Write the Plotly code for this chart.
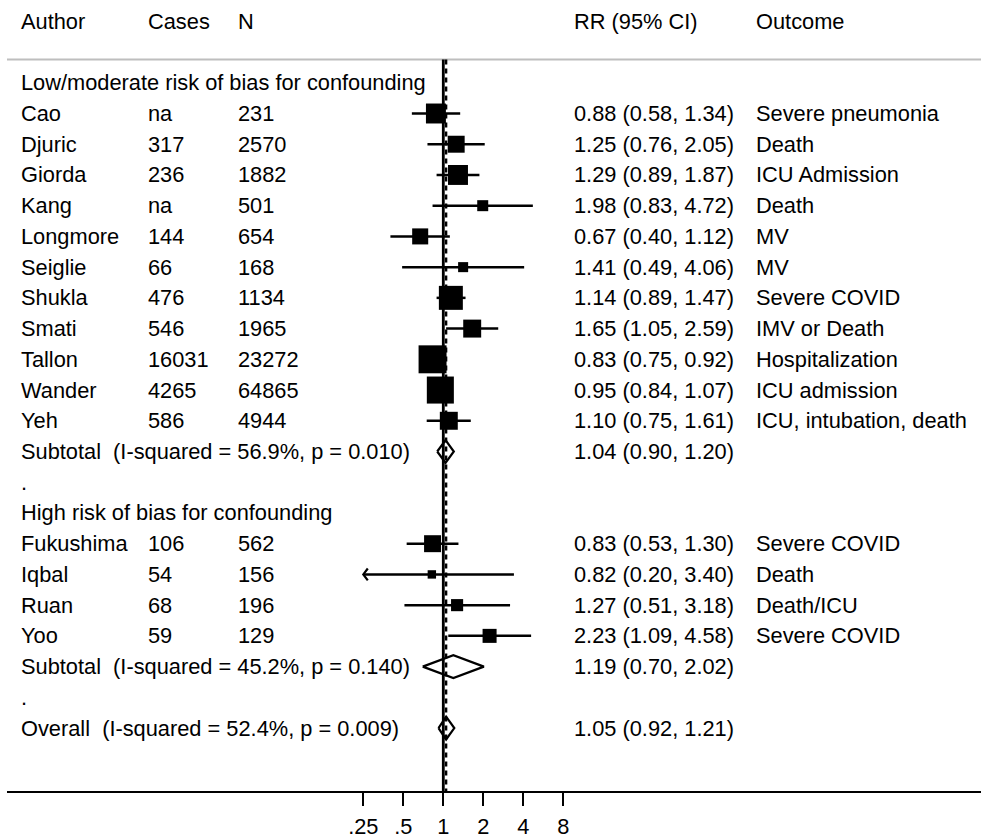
import math
import plotly.graph_objects as go

# ---------------- data ----------------
group_titles = ["Low/moderate risk of bias for confounding", "High risk of bias for confounding"]

g1_author = ["Cao", "Djuric", "Giorda", "Kang", "Longmore", "Seiglie", "Shukla", "Smati", "Tallon", "Wander", "Yeh"]
g1_cases = ["na", "317", "236", "na", "144", "66", "476", "546", "16031", "4265", "586"]
g1_n = ["231", "2570", "1882", "501", "654", "168", "1134", "1965", "23272", "64865", "4944"]
g1_rr = [0.88, 1.25, 1.29, 1.98, 0.67, 1.41, 1.14, 1.65, 0.83, 0.95, 1.10]
g1_lo = [0.58, 0.76, 0.89, 0.83, 0.40, 0.49, 0.89, 1.05, 0.75, 0.84, 0.75]
g1_hi = [1.34, 2.05, 1.87, 4.72, 1.12, 4.06, 1.47, 2.59, 0.92, 1.07, 1.61]
g1_outcome = ["Severe pneumonia", "Death", "ICU Admission", "Death", "MV", "MV", "Severe COVID",
              "IMV or Death", "Hospitalization", "ICU admission", "ICU, intubation, death"]
g1_weight = [7.9, 5.7, 7.9, 2.4, 5.1, 2.0, 11.4, 6.4, 15.5, 14.5, 6.4]

g2_author = ["Fukushima", "Iqbal", "Ruan", "Yoo"]
g2_cases = ["106", "54", "68", "59"]
g2_n = ["562", "156", "196", "129"]
g2_rr = [0.83, 0.82, 1.27, 2.23]
g2_lo = [0.53, 0.20, 0.51, 1.09]
g2_hi = [1.30, 3.40, 3.18, 4.58]
g2_outcome = ["Severe COVID", "Death", "Death/ICU", "Severe COVID"]
g2_weight = [5.7, 1.4, 2.9, 3.9]

subtotal_label = ["Subtotal\u00a0 (I-squared = 56.9%, p = 0.010)", "Subtotal\u00a0 (I-squared = 45.2%, p = 0.140)"]
subtotal_rr = [1.04, 1.19]
subtotal_lo = [0.90, 0.70]
subtotal_hi = [1.20, 2.02]

overall_label = "Overall\u00a0 (I-squared = 52.4%, p = 0.009)"
overall_rr = 1.05
overall_lo = 0.92
overall_hi = 1.21

header = ["Author", "Cases", "N", "RR (95% CI)", "Outcome"]
tick_vals = [0.25, 0.5, 1, 2, 4, 8]
tick_text = [".25", ".5", "1", "2", "4", "8"]

# ---------------- layout helpers ----------------
W, H = 981, 839
PLOT_L = 7
AXIS_Y = 798
ROW0 = 83.5
ROWH = 31.0
X1 = 443.3
PX_PER_DOUBLING = 40.0
CLIP_LO, CLIP_HI = 0.25, 8

def log_range(px):
    return (px - X1) / PX_PER_DOUBLING * math.log10(2)

xr = [log_range(PLOT_L), log_range(W)]
yr = [(AXIS_Y - ROW0) / ROWH, (0 - ROW0) / ROWH]

def paper_x(px):
    return (px - PLOT_L) / (W - PLOT_L)

def row_of_px(py):
    return (py - ROW0) / ROWH

col_px = [22, 149, 239, 575, 757]
FONT = dict(family="Liberation Sans, Arial, sans-serif", size=21.8, color="black")

fig = go.Figure()
annotations = []

def add_text(px, row, text):
    annotations.append(dict(x=paper_x(px), xref="paper", y=row, yref="y", text=text,
                            showarrow=False, xanchor="left", yanchor="middle",
                            font=FONT, borderpad=0, borderwidth=0, xshift=-1))

# header
hdr_row = row_of_px(22)
for px, t in zip(col_px, header):
    add_text(px, hdr_row, t)

groups = [
    (g1_author, g1_cases, g1_n, g1_rr, g1_lo, g1_hi, g1_outcome, g1_weight),
    (g2_author, g2_cases, g2_n, g2_rr, g2_lo, g2_hi, g2_outcome, g2_weight),
]

ci_x, ci_y = [], []
box_x, box_y, box_s = [], [], []
arrows = []
diamonds = []

row = 0
for gi, (au, ca, nn, rr, lo, hi, oc, wt) in enumerate(groups):
    add_text(col_px[0], row, group_titles[gi])
    row += 1
    for i in range(len(au)):
        add_text(col_px[0], row, au[i])
        add_text(col_px[1], row, ca[i])
        add_text(col_px[2], row, nn[i])
        add_text(col_px[3], row, f"{rr[i]:.2f} ({lo[i]:.2f}, {hi[i]:.2f})")
        add_text(col_px[4], row, oc[i])
        l = max(lo[i], CLIP_LO)
        h = min(hi[i], CLIP_HI)
        ci_x += [l, h, None]
        ci_y += [row, row, None]
        if lo[i] < CLIP_LO:
            arrows.append(("left", row))
        if hi[i] > CLIP_HI:
            arrows.append(("right", row))
        box_x.append(rr[i])
        box_y.append(row)
        box_s.append(7.1 * math.sqrt(wt[i]))
        row += 1
    add_text(col_px[0], row, subtotal_label[gi])
    add_text(col_px[3], row, f"{subtotal_rr[gi]:.2f} ({subtotal_lo[gi]:.2f}, {subtotal_hi[gi]:.2f})")
    diamonds.append((subtotal_rr[gi], subtotal_lo[gi], subtotal_hi[gi], row))
    row += 1
    add_text(col_px[0], row, ".")
    row += 1

add_text(col_px[0], row, overall_label)
add_text(col_px[3], row, f"{overall_rr:.2f} ({overall_lo:.2f}, {overall_hi:.2f})")
diamonds.append((overall_rr, overall_lo, overall_hi, row))

# CI lines
fig.add_trace(go.Scatter(x=ci_x, y=ci_y, mode="lines", line=dict(color="black", width=2.5),
                         hoverinfo="skip", showlegend=False))
# arrows for clipped CIs
for side, r in arrows:
    base = CLIP_LO if side == "left" else CLIP_HI
    k = 2 ** (4.5 / PX_PER_DOUBLING)
    back = base * k if side == "left" else base / k
    d = 6 / ROWH
    fig.add_trace(go.Scatter(x=[back, base, back], y=[r - d, r, r + d], mode="lines",
                             line=dict(color="black", width=2.2), hoverinfo="skip", showlegend=False))
# boxes
fig.add_trace(go.Scatter(x=box_x, y=box_y, mode="markers",
                         marker=dict(symbol="square", size=box_s, color="black", opacity=1,
                                     line=dict(width=0)),
                         hoverinfo="skip", showlegend=False))
# diamonds
DH = 11.5 / ROWH
for est, lo, hi, r in diamonds:
    fig.add_trace(go.Scatter(x=[lo, est, hi, est, lo], y=[r, r - DH, r, r + DH, r], mode="lines",
                             fill="toself", fillcolor="white", line=dict(color="black", width=2.2),
                             hoverinfo="skip", showlegend=False))

fig.update_layout(annotations=annotations)

line_top = row_of_px(60)
shapes = [
    dict(type="line", xref="paper", yref="y", x0=0, x1=1, y0=line_top, y1=line_top,
         line=dict(color="#bebebe", width=2)),
    dict(type="line", xref="x", yref="y", x0=1, x1=1, y0=line_top, y1=yr[0],
         line=dict(color="black", width=2.8)),
    dict(type="line", xref="x", yref="y", x0=overall_rr, x1=overall_rr, y0=line_top, y1=yr[0],
         line=dict(color="black", width=2.4, dash="5px,4px")),
]

fig.update_layout(
    width=W, height=H,
    margin=dict(l=PLOT_L, r=0, t=0, b=H - AXIS_Y, pad=0),
    paper_bgcolor="white", plot_bgcolor="white",
    shapes=shapes,
    xaxis=dict(type="log", range=xr, tickvals=tick_vals, ticktext=tick_text,
               ticks="outside", ticklen=13, tickwidth=2, tickcolor="black",
               ticklabelstandoff=2,
               showline=True, linewidth=2, linecolor="black", showgrid=False, zeroline=False,
               tickfont=FONT, fixedrange=True),
    yaxis=dict(range=yr, visible=False, showgrid=False, zeroline=False, fixedrange=True),
    showlegend=False,
)

fig.write_html("out.html")
